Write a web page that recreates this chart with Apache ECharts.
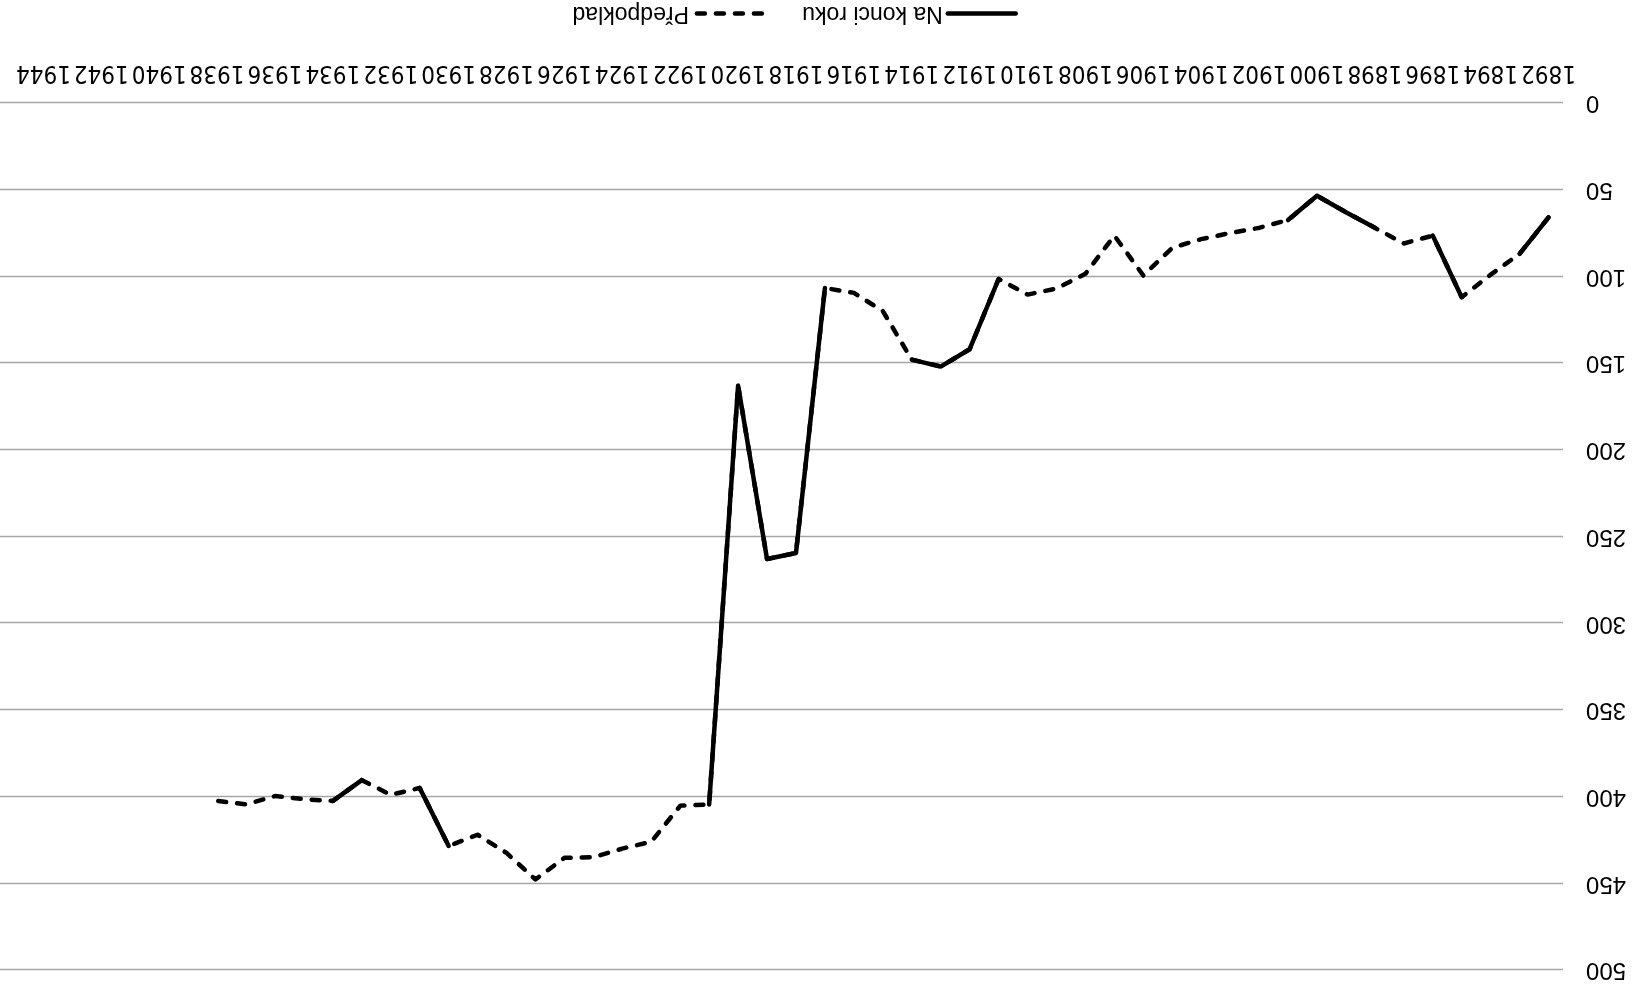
<!DOCTYPE html>
<html>
<head>
<meta charset="utf-8">
<script src="https://cdn.jsdelivr.net/npm/echarts@6/dist/echarts.min.js"></script>
<style>
  html, body { margin: 0; padding: 0; background: #fff; }
  #chart { width: 1642px; height: 992px; transform: rotate(180deg); transform-origin: 50% 50%; }
</style>
</head>
<body>
<div id="chart"></div>
<script>
// Categories: years 1892 - 1945
const years = ['1892','1893','1894','1895','1896','1897','1898','1899','1900','1901',
  '1902','1903','1904','1905','1906','1907','1908','1909','1910','1911',
  '1912','1913','1914','1915','1916','1917','1918','1919','1920','1921',
  '1922','1923','1924','1925','1926','1927','1928','1929','1930','1931',
  '1932','1933','1934','1935','1936','1937','1938','1939','1940','1941',
  '1942','1943','1944','1945'];

// "Na konci roku" (solid) – known values
const naKonciRoku = [66, 87, null, 112, 76.5, null, 72, 63, 53.5, 67.5,
  null, null, null, null, null, null, null, null, null, 101.5,
  142, 152, 148, null, null, 106.7, 259.5, 263, 163, 404.5,
  null, null, null, null, null, null, null, null, 428.5, 395,
  null, 390.5, 402.5, null, null, null, null, null, null, null,
  null, null, null, null];

// "Předpoklad" (dashed) – estimated course
const predpoklad = [66, 87, 99, 112, 76.5, 81, 72, 63, 53.5, 67.5,
  72, 75, 78.5, 83.5, 99.5, 76.5, 98.5, 107, 110.5, 101.5,
  142, 152, 148, 120, 109.5, 106.7, 259.5, 263, 163, 404.5,
  405.3, 426, 430, 435, 435.3, 447.8, 432.5, 422, 428.5, 395,
  399, 390.5, 402.5, 401.5, 399.7, 404.5, 402.5, null, null, null,
  null, null, null, null];

const yTicks = { min: 0, max: 500, interval: 50 };

const chart = echarts.init(document.getElementById('chart'), null, { renderer: 'canvas' });
chart.setOption({
  animation: false,
  backgroundColor: '#ffffff',
  grid: { left: 79, right: -1, top: 22, bottom: 103 },
  legend: {
    left: 619,
    top: 962,
    itemWidth: 68,
    itemHeight: 8,
    itemGap: 38,
    itemStyle: { opacity: 0 },
    lineStyle: { width: 4.5, cap: 'round' },
    textStyle: { fontFamily: 'Liberation Sans', fontSize: 23, color: '#000' },
    data: ['Na konci roku', 'Předpoklad']
  },
  xAxis: {
    type: 'category',
    data: years,
    boundaryGap: true,
    axisLine: { show: false },
    axisTick: { show: false },
    axisLabel: {
      interval: 1,
      margin: 19,
      fontFamily: "'Liberation Sans Narrow', 'DejaVu Sans Condensed', sans-serif",
      fontSize: 24,
      color: '#000'
    },
    splitLine: { show: false }
  },
  yAxis: {
    type: 'value',
    min: yTicks.min,
    max: yTicks.max,
    interval: yTicks.interval,
    axisLine: { show: false },
    axisTick: { show: false },
    axisLabel: { margin: 23, fontFamily: 'Liberation Sans', fontSize: 24, color: '#000' },
    splitLine: { lineStyle: { color: '#a6a6a6', width: 1.4 } }
  },
  series: [
    {
      name: 'Na konci roku',
      type: 'line',
      data: naKonciRoku,
      symbol: 'none',
      connectNulls: false,
      z: 5,
      lineStyle: { color: '#000', width: 4.5, cap: 'round', join: 'round' },
      itemStyle: { color: '#000' }
    },
    {
      name: 'Předpoklad',
      type: 'line',
      data: predpoklad,
      symbol: 'none',
      z: 3,
      lineStyle: { color: '#000', width: 4.5, type: [8, 11], cap: 'round', join: 'round' },
      itemStyle: { color: '#000' }
    }
  ]
});
</script>
</body>
</html>
